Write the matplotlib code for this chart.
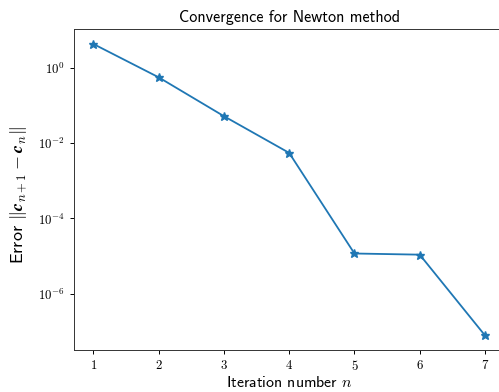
import numpy as np
import matplotlib
matplotlib.use("Agg")
import matplotlib.pyplot as plt
from matplotlib.ticker import NullLocator, FuncFormatter

# Newton iteration errors ||c_{n+1} - c_n||
iterations = [1, 2, 3, 4, 5, 6, 7]
errors = [4.3, 0.56, 0.052, 0.0055, 1.17e-5, 1.09e-5, 7.8e-8]
y_ticks = [1e0, 1e-2, 1e-4, 1e-6]

plt.rcParams["mathtext.fontset"] = "cm"
plt.rcParams["font.family"] = ["cmss10", "DejaVu Sans"]

fig = plt.figure(figsize=(4.99, 3.92), dpi=100)
ax = fig.add_axes([0.1477, 0.1071, 0.8635, 0.818])

ax.plot(iterations, errors, marker="*", color="#1f77b4", linewidth=1.3, markersize=6.3)
ax.set_yscale("log")
ax.set_yticks(y_ticks)
ax.yaxis.set_minor_locator(NullLocator())
ax.yaxis.set_major_formatter(
    FuncFormatter(lambda v, p: r"$10^{%d}$" % int(round(np.log10(v)))))
ax.set_xticks(iterations)
ax.xaxis.set_major_formatter(FuncFormatter(lambda v, p: r"$%d$" % v))

ax.tick_params(labelsize=9.3, length=3, width=0.7)

ax.set_title("Convergence for Newton method", fontsize=11.6, pad=5)
ax.set_xlabel(r"Iteration number $n$", fontsize=11.4, labelpad=1.5)
ax.set_ylabel(r"Error $\|\mathbfit{c}_{n+1} - \mathbfit{c}_{n}\|$", fontsize=13)
ax.yaxis.set_label_coords(-0.104, 0.483)

for sp in ax.spines.values():
    sp.set_linewidth(0.7)
    sp.set_color("#333333")

fig.savefig("out.png", dpi=100)
